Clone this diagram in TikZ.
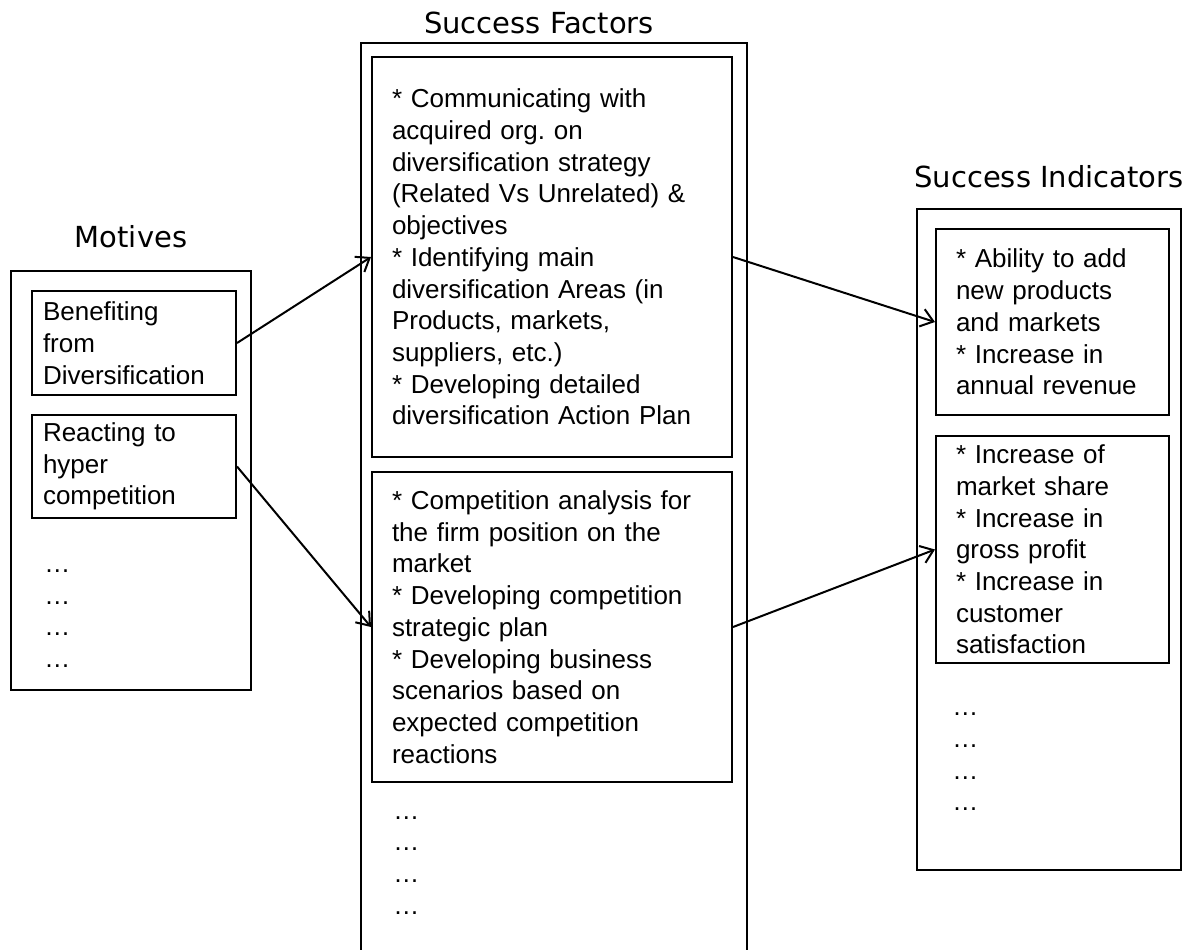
\documentclass[tikz,border=0pt]{standalone}
\usepackage{fontspec}
\setmainfont{Liberation Sans}
\newfontfamily\headfont{DejaVu Sans}
\usetikzlibrary{arrows.meta}
\frenchspacing
\tikzset{
	box/.style = {
		draw = black,
		line width = 1pt,
		rectangle,
		align = left,
		inner xsep = 10pt,
		inner ysep = 0pt,
		font = \fontsize{13}{15.85}\selectfont
	},
	frame/.style = {draw = black, line width = 1.2pt},
	heading/.style = {anchor = base, inner sep = 0pt, font = \headfont\fontsize{14.5}{17}\selectfont},
	dots/.style = {anchor = base west, inner sep = 0pt, font = \fontsize{13}{15.85}\selectfont},
	link/.style = {-{Straight Barb[length=6pt, width=9pt]}, line width = 1pt}
}

\begin{document}
\begin{tikzpicture}[x=0.5pt, y=-0.5pt]
    \useasboundingbox (0,0) rectangle (1202,949);

    % outer frames
    \draw [frame] (11,271) rectangle (251,690);
    \draw [frame] (361,960) -- (361,43) -- (747,43) -- (747,960);
    \draw [frame] (917,209) rectangle (1181,870);

    \node [heading] (motives) at (131,247) {Motives};
    \node [heading] (factors) at (539,33) {Success Factors};
    \node [heading] (indicators) at (1049,187) {Success Indicators};

    % motives
    \node [box, inner xsep=5.5pt, text width=91pt, minimum height=52pt] (benefit) at (134,343) {Benefiting\\from\\Diversification};
    \node [box, inner xsep=5.5pt, text width=91pt, minimum height=51.5pt] (react) at (134,466.5) {Reacting to\\hyper\\competition};

    % success factors
    \node [box, text width=160pt, minimum height=200pt] (comm) at (552,257) {* Communicating with\\acquired org. on\\diversification strategy\\(Related Vs Unrelated) \&\\objectives\\{}* Identifying main\\diversification Areas (in\\Products, markets,\\suppliers, etc.)\\{}* Developing detailed\\diversification Action Plan};
    \node [box, text width=160pt, minimum height=155pt] (compet) at (552,627) {* Competition analysis for\\the firm position on the\\market\\{}* Developing competition\\strategic plan\\{}* Developing business\\scenarios based on\\expected competition\\reactions};

    % success indicators
    \node [box, text width=96.5pt, minimum height=93pt] (ability) at (1052.5,322) {* Ability to add\\new products\\and markets\\{}* Increase in\\annual revenue};
    \node [box, text width=96.5pt, minimum height=113.5pt] (share) at (1052.5,549.5) {* Increase of\\market share\\{}* Increase in\\gross profit\\{}* Increase in\\customer\\satisfaction};

    % more to come
    \foreach \y [count=\i] in {572,604,635,667} \node [dots] (mdots\i) at (44,\y) {…};
    \foreach \y [count=\i] in {819,850,882,914} \node [dots] (fdots\i) at (393,\y) {…};
    \foreach \y [count=\i] in {715,747,779,810} \node [dots] (idots\i) at (952,\y) {…};

    \draw [link] (benefit.east) -- (comm.west);
    \draw [link] (react.east) -- (compet.west);
    \draw [link] (comm.east) -- (ability.west);
    \draw [link] (compet.east) -- (share.west);
\end{tikzpicture}
\end{document}
